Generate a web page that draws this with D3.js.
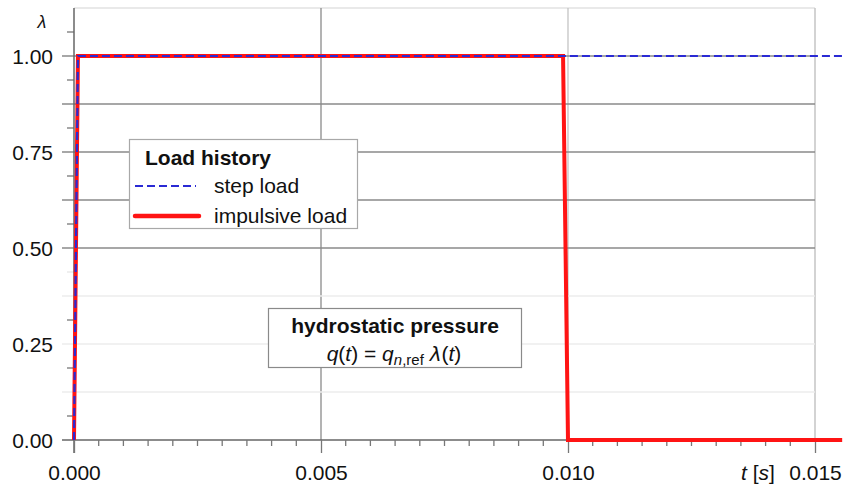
<!DOCTYPE html>
<html><head><meta charset="utf-8">
<script src="https://cdn.jsdelivr.net/npm/d3@7"></script>
<style>
body{margin:0;background:#fff;}
text{font-family:"Liberation Sans",Arial,sans-serif;fill:#111;}
</style></head>
<body><svg id="c" width="844" height="488"></svg>
<script>
// ---- data ----
const stepT = [0, 0.00008, 0.01555];
const stepL = [0, 1, 1];
const impT = [0, 0.00008, 0.0099, 0.0100, 0.01555];
const impL = [0, 1, 1, 0, 0];
const xTickLabels = [0, 0.005, 0.010, 0.015];
const yTickLabels = [0, 0.25, 0.50, 0.75, 1.00];
const yGridDark = [0.5, 0.625, 0.75, 0.875];
const yGridFaint = [0.125, 0.25, 0.375];
const yMinorDark = [0.0625, 0.1875, 0.3125, 0.5625, 0.6875, 0.8125, 0.9375, 1.0625];
const yMinorFaint = [0.4375];
const xGrid = [0.005, 0.010];
const xMinor = d3.range(1, 31).map(i => i * 0.0005).filter(v => Math.abs(v/0.005 - Math.round(v/0.005)) > 1e-6);
const legendItems = ["step load", "impulsive load"];

const svg = d3.select("#c");
const x = d3.scaleLinear().domain([0, 0.015]).range([74, 815]);
const y = d3.scaleLinear().domain([0, 1]).range([440, 56]);
const yTop = 1.125;

const g = svg.append("g");
// frame top and right
g.append("line").attr("x1", x(0)).attr("x2", x(0.015)).attr("y1", y(yTop)).attr("y2", y(yTop)).attr("stroke", "#e2e2e2").attr("stroke-width", 1.5);
g.append("line").attr("x1", x(0.015)).attr("x2", x(0.015)).attr("y1", y(yTop)).attr("y2", y(0)).attr("stroke", "#c4c4c4").attr("stroke-width", 1.5);

// vertical grid
g.selectAll(".vg").data(xGrid).enter().append("line")
  .attr("x1", d => x(d)).attr("x2", d => x(d)).attr("y1", y(yTop)).attr("y2", y(0))
  .attr("stroke", d => d === 0.005 ? "#8a8a8a" : "#c4c4c4").attr("stroke-width", 1.3);

// horizontal grid (with long ticks to the left)
g.selectAll(".hgd").data(yGridDark).enter().append("line")
  .attr("x1", x(0) - 12).attr("x2", x(0.015)).attr("y1", d => y(d)).attr("y2", d => y(d))
  .attr("stroke", "#8a8a8a").attr("stroke-width", 1.3);
g.selectAll(".hgf").data(yGridFaint).enter().append("line")
  .attr("x1", x(0) - 12).attr("x2", x(0.015)).attr("y1", d => y(d)).attr("y2", d => y(d))
  .attr("stroke", "#ececec").attr("stroke-width", 1.3);
// 1.00 grid line
g.append("line").attr("x1", x(0) - 12).attr("x2", x(0.015)).attr("y1", y(1)).attr("y2", y(1)).attr("stroke", "#8a8a8a").attr("stroke-width", 1.3);

// minor y ticks
g.selectAll(".ymd").data(yMinorDark).enter().append("line")
  .attr("x1", x(0) - 7).attr("x2", x(0)).attr("y1", d => y(d)).attr("y2", d => y(d))
  .attr("stroke", "#777").attr("stroke-width", 1.3);
g.selectAll(".ymf").data(yMinorFaint).enter().append("line")
  .attr("x1", x(0) - 7).attr("x2", x(0)).attr("y1", d => y(d)).attr("y2", d => y(d))
  .attr("stroke", "#e6e6e6").attr("stroke-width", 1.3);

// y axis line
g.append("line").attr("x1", x(0)).attr("x2", x(0)).attr("y1", y(yTop)).attr("y2", y(0) + 13).attr("stroke", "#666").attr("stroke-width", 1.5);
// x axis line
g.append("line").attr("x1", x(0) - 12).attr("x2", x(0.015)).attr("y1", y(0)).attr("y2", y(0)).attr("stroke", "#666").attr("stroke-width", 1.5);

// x minor ticks
g.selectAll(".xm").data(xMinor).enter().append("line")
  .attr("x1", d => x(d)).attr("x2", d => x(d)).attr("y1", y(0)).attr("y2", y(0) + 6)
  .attr("stroke", "#777").attr("stroke-width", 1.3);

// axes labels via d3 axes
const xAxis = d3.axisBottom(x).tickValues(xTickLabels).tickFormat(d3.format(".3f")).tickSize(13).tickPadding(14);
const xa = svg.append("g").attr("transform", `translate(0,${y(0)})`).call(xAxis);
xa.select(".domain").remove();
xa.selectAll(".tick line").attr("stroke", "#777").attr("stroke-width", 1.3);
xa.selectAll(".tick text").attr("font-size", 21).attr("font-family", "Liberation Sans, Arial, sans-serif").attr("fill", "#111").attr("dy", "0.6em");

const yAxis = d3.axisLeft(y).tickValues(yTickLabels).tickFormat(d3.format(".2f")).tickSize(0).tickPadding(21);
const ya = svg.append("g").attr("transform", `translate(${x(0)},0)`).call(yAxis);
ya.select(".domain").remove();
ya.selectAll(".tick text").attr("font-size", 21).attr("font-family", "Liberation Sans, Arial, sans-serif").attr("fill", "#111").attr("dy", "0.36em");

// axis titles
svg.append("text").attr("x", 42).attr("y", 28).attr("text-anchor", "middle")
  .attr("font-size", 18).attr("font-style", "italic").attr("font-family", "DejaVu Sans, sans-serif").text("λ");
const tl = svg.append("text").attr("x", 741).attr("y", 480).attr("font-size", 21);
tl.append("tspan").attr("font-style", "italic").text("t");
tl.append("tspan").text(" [");
tl.append("tspan").attr("font-style", "italic").text("s");
tl.append("tspan").text("]");

// data lines
const line = d3.line().x(d => x(d[0])).y(d => y(d[1]));
const impData = impT.map((t, i) => [t, impL[i]]);
const stepData = stepT.map((t, i) => [t, stepL[i]]);
svg.append("path").datum(impData).attr("d", line).attr("fill", "none")
  .attr("stroke", "#ff1414").attr("stroke-width", 4).attr("stroke-linejoin", "miter");
svg.append("path").datum(stepData).attr("d", line).attr("fill", "none")
  .attr("stroke", "#2a2ad4").attr("stroke-width", 2.2).attr("stroke-dasharray", "8,4");

// legend
const lg = svg.append("g");
lg.append("rect").attr("x", 129.5).attr("y", 139.5).attr("width", 228).attr("height", 89)
  .attr("fill", "#fff").attr("stroke", "#a8a8a8").attr("stroke-width", 1.2);
lg.append("text").attr("x", 145).attr("y", 165).attr("font-size", 21).attr("font-weight", "bold").text("Load history");
const legY = [186, 216];
lg.append("line").attr("x1", 135).attr("x2", 196).attr("y1", legY[0]).attr("y2", legY[0])
  .attr("stroke", "#2a2ad4").attr("stroke-width", 2).attr("stroke-dasharray", "8,4");
lg.append("line").attr("x1", 135).attr("x2", 199).attr("y1", legY[1]).attr("y2", legY[1])
  .attr("stroke", "#ff1414").attr("stroke-width", 4.5).attr("stroke-linecap", "round");
lg.selectAll(".lt").data(legendItems).enter().append("text")
  .attr("x", 214).attr("y", (d, i) => legY[i] + 7).attr("font-size", 21).text(d => d);

// annotation
const an = svg.append("g");
an.append("rect").attr("x", 268.5).attr("y", 308.5).attr("width", 253).attr("height", 59)
  .attr("fill", "#fff").attr("stroke", "#8a8a8a").attr("stroke-width", 1.2);
an.append("text").attr("x", 395).attr("y", 333).attr("text-anchor", "middle")
  .attr("font-size", 21).attr("font-weight", "bold").text("hydrostatic pressure");
const eq = an.append("text").attr("x", 394).attr("y", 361).attr("text-anchor", "middle").attr("font-size", 21);
eq.append("tspan").attr("font-style", "italic").text("q");
eq.append("tspan").text("(");
eq.append("tspan").attr("font-style", "italic").text("t");
eq.append("tspan").text(") = ");
eq.append("tspan").attr("font-style", "italic").text("q");
eq.append("tspan").attr("font-size", 15).attr("dy", 4).attr("font-style", "italic").text("n");
eq.append("tspan").attr("font-size", 15).text(",ref");
eq.append("tspan").attr("dy", -4).text("  ");
eq.append("tspan").attr("font-style", "italic").attr("font-family", "DejaVu Sans, sans-serif").attr("font-size", 20).text("λ");
eq.append("tspan").text("(");
eq.append("tspan").attr("font-style", "italic").text("t");
eq.append("tspan").text(")");
</script></body></html>
